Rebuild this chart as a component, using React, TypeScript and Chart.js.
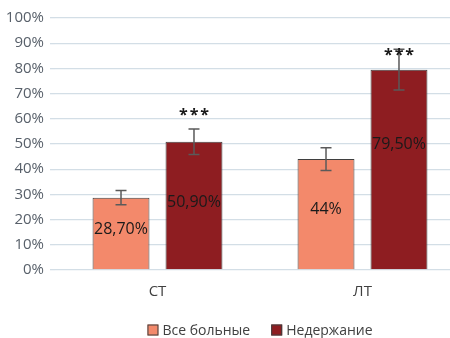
import { useEffect, useRef } from "react";
import { Chart, registerables } from "chart.js";

Chart.register(...registerables);

// Data
const categories = ["СТ", "ЛТ"];
const seriesNames = ["Все больные", "Недержание"];
const allPatients = [28.7, 44];
const incontinence = [50.9, 79.5];
const allPatientsErr = [2.8, 4.5];
const incontinenceErr = [5.1, 8.1];
const allPatientsLabels = ["28,70%", "44%"];
const incontinenceLabels = ["50,90%", "79,50%"];
const significanceMarks = ["***", "***"];
const significanceAt = [62.4, 86.2];
const yMin = 0;
const yMax = 100;
const yStep = 10;

// Styles
const SALMON = "#F3896B";
const DARK_RED = "#8E1D21";
const BAR_BORDER = "#3F3F3F";
const GRID = "#D3DEE6";
const AXIS_TEXT = "#58606A";
const TEXT_DARK = "#1A1A1A";
const FONT = "'Open Sans', 'DejaVu Sans', sans-serif";

const CANVAS_W = 520;
const CANVAS_H = 338;

// pixel lift of each in-bar label from the bar centre, per dataset
const labelLift = [
  [4, 5],
  [3, 25],
];

const errorBarsPlugin = {
  id: "errorBars",
  afterDatasetsDraw(chart: any) {
    const { ctx } = chart;
    const y = chart.scales.y;
    const errs = [allPatientsErr, incontinenceErr];
    ctx.save();
    ctx.strokeStyle = "#5A5A5A";
    ctx.lineWidth = 1.5;
    chart.data.datasets.forEach((ds: any, i: number) => {
      const meta = chart.getDatasetMeta(i);
      meta.data.forEach((bar: any, j: number) => {
        const v = ds.data[j];
        const e = errs[i][j];
        const top = y.getPixelForValue(v + e);
        const bot = y.getPixelForValue(v - e);
        const half = 5.5;
        ctx.beginPath();
        ctx.moveTo(bar.x, top);
        ctx.lineTo(bar.x, bot);
        ctx.moveTo(bar.x - half, top);
        ctx.lineTo(bar.x + half, top);
        ctx.moveTo(bar.x - half, bot);
        ctx.lineTo(bar.x + half, bot);
        ctx.stroke();
      });
    });
    ctx.restore();
  },
};

const valueLabelsPlugin = {
  id: "valueLabels",
  afterDatasetsDraw(chart: any) {
    const { ctx } = chart;
    const texts = [allPatientsLabels, incontinenceLabels];
    ctx.save();
    ctx.font = `16px ${FONT}`;
    ctx.fillStyle = TEXT_DARK;
    ctx.textAlign = "center";
    ctx.textBaseline = "middle";
    chart.data.datasets.forEach((_ds: any, i: number) => {
      const meta = chart.getDatasetMeta(i);
      meta.data.forEach((bar: any, j: number) => {
        const cy = (bar.y + bar.base) / 2 - labelLift[i][j];
        ctx.fillText(texts[i][j], bar.x, cy);
      });
    });
    ctx.restore();
  },
};

const significancePlugin = {
  id: "significance",
  afterDatasetsDraw(chart: any) {
    const { ctx } = chart;
    const y = chart.scales.y;
    const meta = chart.getDatasetMeta(1);
    ctx.save();
    ctx.font = `bold 16px ${FONT}`;
    ctx.fillStyle = TEXT_DARK;
    ctx.textAlign = "center";
    ctx.textBaseline = "middle";
    (ctx as any).letterSpacing = "2px";
    meta.data.forEach((bar: any, j: number) => {
      ctx.fillText(significanceMarks[j], bar.x + 1, y.getPixelForValue(significanceAt[j]) + 3);
    });
    ctx.restore();
  },
};

const bottomLegendPlugin = {
  id: "bottomLegend",
  afterDraw(chart: any) {
    const { ctx, chartArea } = chart;
    const box = 11;
    const textGap = 4;
    const itemGap = 21;
    ctx.save();
    ctx.font = `14px ${FONT}`;
    ctx.textBaseline = "middle";
    const items = chart.data.datasets.map((ds: any) => ({
      text: ds.label as string,
      color: ds.backgroundColor as string,
      w: ctx.measureText(ds.label).width,
    }));
    const total =
      items.reduce((s: number, it: any) => s + box + textGap + it.w, 0) +
      itemGap * (items.length - 1);
    let x = (chartArea.left + chartArea.right) / 2 - total / 2;
    const cy = 330;
    items.forEach((it: any) => {
      ctx.fillStyle = it.color;
      ctx.fillRect(x, cy - box / 2, box, box);
      ctx.strokeStyle = BAR_BORDER;
      ctx.lineWidth = 1;
      ctx.strokeRect(x + 0.5, cy - box / 2 + 0.5, box - 1, box - 1);
      ctx.fillStyle = "#404040";
      ctx.fillText(it.text, x + box + textGap, cy + 1);
      x += box + textGap + it.w + itemGap;
    });
    ctx.restore();
  },
};

export default function App() {
  const canvasRef = useRef<HTMLCanvasElement | null>(null);

  useEffect(() => {
    if (!canvasRef.current) return;
    const chart = new Chart(canvasRef.current, {
      type: "bar",
      data: {
        labels: categories,
        datasets: [
          {
            label: seriesNames[0],
            data: allPatients,
            backgroundColor: SALMON,
            borderColor: BAR_BORDER,
            borderWidth: 1,
            categoryPercentage: 0.712,
            barPercentage: 0.78,
          },
          {
            label: seriesNames[1],
            data: incontinence,
            backgroundColor: DARK_RED,
            borderColor: BAR_BORDER,
            borderWidth: 1,
            categoryPercentage: 0.712,
            barPercentage: 0.78,
          },
        ],
      },
      options: {
        responsive: false,
        animation: false,
        devicePixelRatio: 1,
        layout: { padding: { left: 0, right: CANVAS_W - 465, top: 18, bottom: 28 } },
        plugins: {
          legend: { display: false },
          tooltip: { enabled: false },
        },
        scales: {
          x: {
            grid: { display: false, drawTicks: false },
            border: { display: false },
            ticks: {
              color: "#404040",
              font: { family: FONT, size: 15 },
              padding: 13,
            },
            afterFit(scale: any) {
              scale.height = 40;
            },
          },
          y: {
            min: yMin,
            max: yMax,
            grid: {
              color: GRID,
              lineWidth: 1.3,
              drawTicks: true,
              tickLength: 5,
              tickColor: GRID,
            },
            border: { display: false },
            ticks: {
              stepSize: yStep,
              color: AXIS_TEXT,
              font: { family: FONT, size: 15 },
              padding: 6,
              callback: (v: any) => `${v}%`,
            },
            afterFit(scale: any) {
              scale.width = 55;
            },
          },
        },
      },
      plugins: [errorBarsPlugin, valueLabelsPlugin, significancePlugin, bottomLegendPlugin],
    });
    return () => chart.destroy();
  }, []);

  return (
    <div
      style={{
        position: "fixed",
        left: 0,
        top: 0,
        width: 450,
        height: CANVAS_H,
        overflow: "hidden",
        background: "#FFFFFF",
      }}
    >
      <canvas
        ref={canvasRef}
        width={CANVAS_W}
        height={CANVAS_H}
        style={{ width: CANVAS_W, height: CANVAS_H, display: "block" }}
      />
    </div>
  );
}
